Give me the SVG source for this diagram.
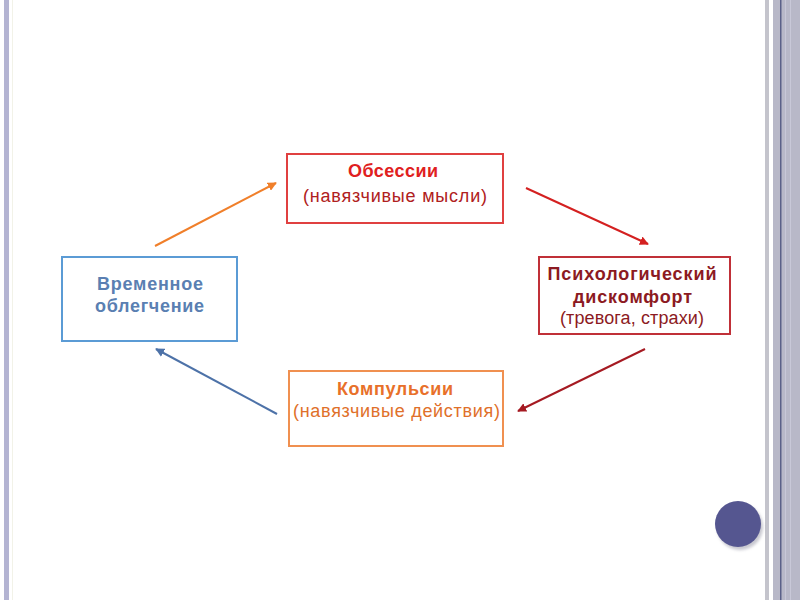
<svg xmlns="http://www.w3.org/2000/svg" width="800" height="600" viewBox="0 0 800 600">
<defs>
<style>
text{font-family:"Liberation Sans",Arial,sans-serif;font-size:18px;text-anchor:middle}
.b{font-weight:bold}
.box{fill:#ffffff;stroke-width:2}
.con{fill:none;stroke-width:2}
</style>
<marker id="mo" viewBox="0 0 10 10" refX="9" refY="5" markerWidth="4.5" markerHeight="4.5" orient="auto"><path d="M0,0 L10,5 L0,10 z" fill="#f07f2a"/></marker>
<marker id="mr" viewBox="0 0 10 10" refX="9" refY="5" markerWidth="4.5" markerHeight="4.5" orient="auto"><path d="M0,0 L10,5 L0,10 z" fill="#d42020"/></marker>
<marker id="md" viewBox="0 0 10 10" refX="9" refY="5" markerWidth="4.5" markerHeight="4.5" orient="auto"><path d="M0,0 L10,5 L0,10 z" fill="#a51a22"/></marker>
<marker id="mb" viewBox="0 0 10 10" refX="9" refY="5" markerWidth="4.5" markerHeight="4.5" orient="auto"><path d="M0,0 L10,5 L0,10 z" fill="#4d72a8"/></marker>
<filter id="sh" x="-30%" y="-30%" width="160%" height="160%"><feGaussianBlur stdDeviation="1.5"/></filter>
</defs>
<rect width="800" height="600" fill="#ffffff"/>
<g id="frame">
<rect x="4" y="0" width="5" height="600" fill="#b4b4d2"/>
<rect x="12" y="0" width="1" height="600" fill="#f2f2e8"/>
<rect x="765" y="0" width="4" height="600" fill="#c4c4cc"/>
<rect x="773" y="0" width="27" height="600" fill="#b8b8c8"/>
<rect x="780" y="0" width="1.5" height="600" fill="#5a6088"/>
<rect x="785" y="0" width="1" height="600" fill="#c8c8d8"/>
<rect x="790" y="0" width="1" height="600" fill="#c8c8d8"/>
<circle cx="740" cy="527" r="23" fill="#9090a0" opacity="0.5" filter="url(#sh)"/>
<circle cx="738" cy="524" r="23" fill="#555690"/>
</g>
<g id="n-obsessions">
<rect class="box" x="287" y="154" width="216" height="69" stroke="#e04040"/>
<text class="b" x="393" y="177" fill="#e02020" textLength="90" lengthAdjust="spacing">Обсессии</text>
<text x="395" y="202" fill="#b02020" textLength="184" lengthAdjust="spacing">(навязчивые мысли)</text>
</g>
<g id="n-discomfort">
<rect class="box" x="539" y="257" width="191" height="77" stroke="#c03038"/>
<text class="b" x="632" y="280" fill="#8c1a22" textLength="169" lengthAdjust="spacing">Психологический</text>
<text class="b" x="632.5" y="303" fill="#8c1a22" textLength="119" lengthAdjust="spacing">дискомфорт</text>
<text x="632" y="324" fill="#8c1a22" textLength="144" lengthAdjust="spacing">(тревога, страхи)</text>
</g>
<g id="n-compulsions">
<rect class="box" x="289" y="371" width="214" height="75" stroke="#f09050"/>
<text class="b" x="395" y="395" fill="#e8702a" textLength="116" lengthAdjust="spacing">Компульсии</text>
<text x="396.5" y="417" fill="#e0702a" textLength="207" lengthAdjust="spacing">(навязчивые действия)</text>
</g>
<g id="n-relief">
<rect class="box" x="62" y="257" width="175" height="84" stroke="#5b9bd5"/>
<text class="b" x="150" y="290" fill="#5a7fb2" textLength="106" lengthAdjust="spacing">Временное</text>
<text class="b" x="149.5" y="312" fill="#5a7fb2" textLength="109" lengthAdjust="spacing">облегчение</text>
</g>
<g id="connectors">
<line class="con" x1="155" y1="246" x2="276" y2="183" stroke="#f07f2a" marker-end="url(#mo)"/>
<line class="con" x1="526" y1="188" x2="648" y2="244" stroke="#d42020" marker-end="url(#mr)"/>
<line class="con" x1="645" y1="349" x2="518" y2="411" stroke="#a51a22" marker-end="url(#md)"/>
<line class="con" x1="277" y1="414" x2="156" y2="349" stroke="#4d72a8" marker-end="url(#mb)"/>
</g>
</svg>
